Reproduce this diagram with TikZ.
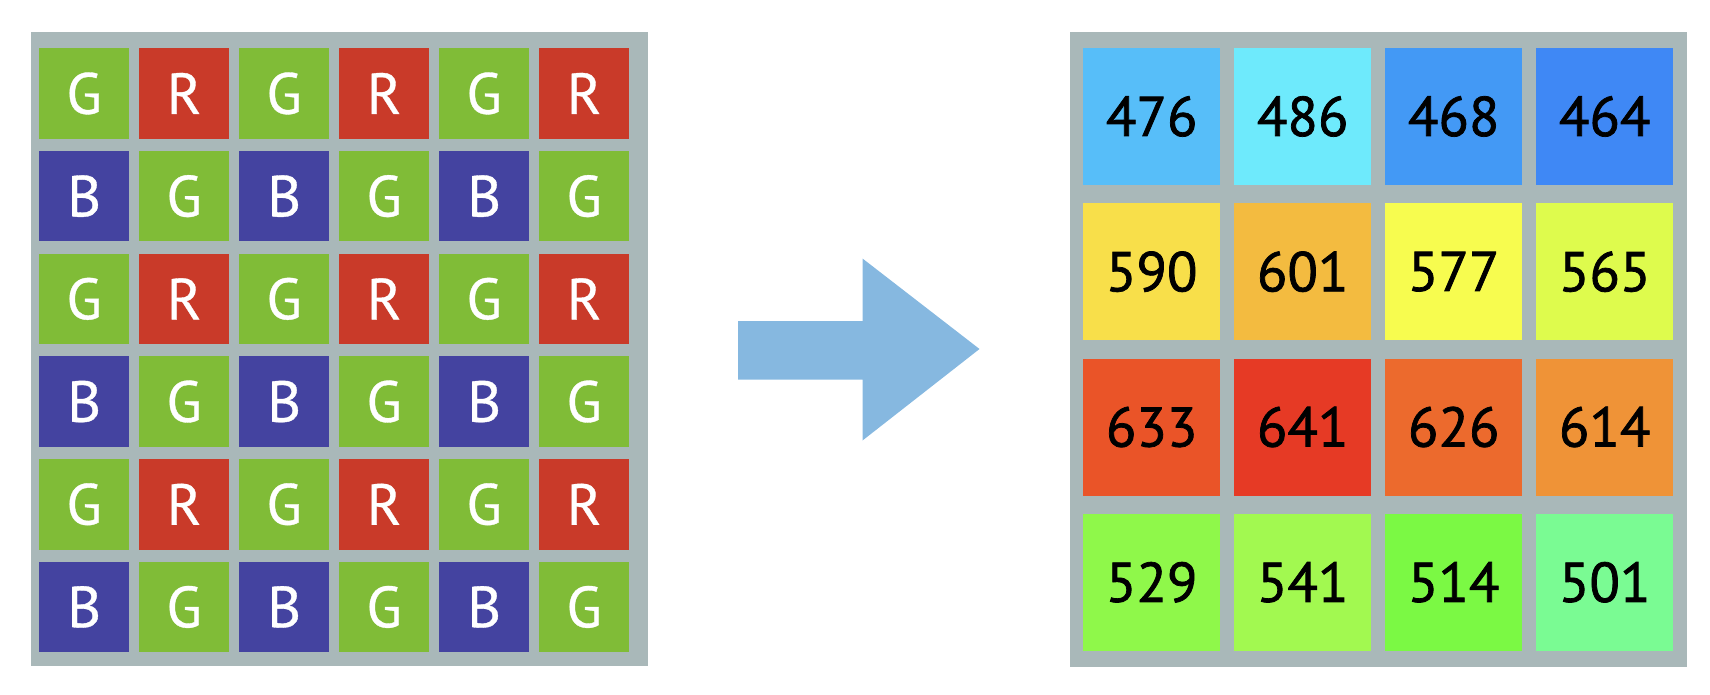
\documentclass[tikz,border=0pt]{standalone}
\usepackage{fontspec}
\setmainfont{PT Sans}
\newfontfamily\numfont[FakeBold=1.3]{PT Sans}
\newfontfamily\letfont[FakeBold=0.6]{PT Sans}
\definecolor{gridgray}{HTML}{A9B8B9}
\definecolor{bgreen}{HTML}{80BC37}
\definecolor{bred}{HTML}{C93A29}
\definecolor{bblue}{HTML}{4443A0}
\definecolor{arrowblue}{HTML}{86B8E0}
\tikzset{
  frame/.style={fill=gridgray, draw=none},
  bayer/.style={draw=none, minimum width=90pt, minimum height=90.5pt, inner sep=0pt, anchor=north west, text=white, font=\letfont\fontsize{58}{58}\selectfont},
  valcell/.style={draw=none, minimum width=137pt, minimum height=137pt, inner sep=0pt, anchor=north west, text=black, font=\numfont\fontsize{56}{56}\selectfont},
}
\begin{document}
\begin{tikzpicture}[x=1pt,y=-1pt]
\useasboundingbox (0,0) rectangle (1710,695);
% left frame
\fill[frame] (31,32.5) rectangle (648,665.5);
\foreach \r in {0,...,5}{
  \foreach \c in {0,...,5}{
    \pgfmathtruncatemacro{\rr}{mod(\r,2)}
    \pgfmathtruncatemacro{\cc}{mod(\c,2)}
    \ifnum\rr=0
      \ifnum\cc=0 \def\col{bgreen}\def\lab{G}\else \def\col{bred}\def\lab{R}\fi
    \else
      \ifnum\cc=0 \def\col{bblue}\def\lab{B}\else \def\col{bgreen}\def\lab{G}\fi
    \fi
    \node[bayer, fill=\col] (b\r\c) at ({39+100*\c},{48+102.7*\r}) {\lab};
  }
}
% arrow
\coordinate (a1) at (738,321);
\coordinate (a2) at (862.5,321);
\coordinate (a3) at (862.5,258.5);
\coordinate (tip) at (979.5,349);
\coordinate (a5) at (862.5,440.5);
\coordinate (a6) at (862.5,379.5);
\coordinate (a7) at (738,379.5);
\fill[arrowblue] (a1) -- (a2) -- (a3) -- (tip) -- (a5) -- (a6) -- (a7) -- cycle;
% right frame
\fill[frame] (1070,32.5) rectangle (1687,667);
\foreach \r/\c/\v/\hex in {
 0/0/476/57BEF9, 0/1/486/6EEAFC, 0/2/468/4399F5, 0/3/464/3F88F5,
 1/0/590/F8DF4A, 1/1/601/F3BB40, 1/2/577/F7FC4F, 1/3/565/DEFB4D,
 2/0/633/EA5428, 2/1/641/E63A25, 2/2/626/EC6A2D, 2/3/614/EF9337,
 3/0/529/8FF84A, 3/1/541/A2F950, 3/2/514/7BF944, 3/3/501/7AFB93}{
  \definecolor{cellc}{HTML}{\hex}
  \node[valcell, fill=cellc] (v\r\c) at ({1083+151*\c},{47.7+155.3*\r}) {\v};
}
\end{tikzpicture}
\end{document}
